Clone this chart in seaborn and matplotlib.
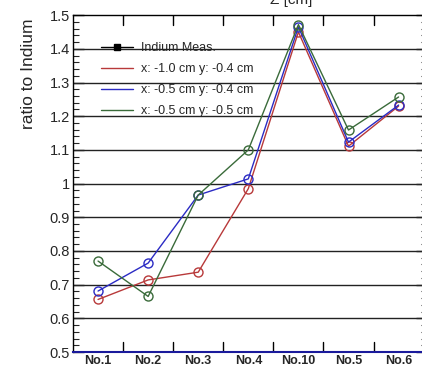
import pandas as pd
import seaborn as sns
import matplotlib.pyplot as plt
from matplotlib.lines import Line2D
from matplotlib.ticker import MultipleLocator

positions = ['No.1', 'No.2', 'No.3', 'No.4', 'No.10', 'No.5', 'No.6']
series_names = ['x: -1.0 cm y: -0.4 cm', 'x: -0.5 cm y: -0.4 cm', 'x: -0.5 cm y: -0.5 cm']
red_vals = [0.656, 0.714, 0.737, 0.985, 1.45, 1.111, 1.23]
blue_vals = [0.681, 0.764, 0.966, 1.014, 1.465, 1.123, 1.233]
green_vals = [0.77, 0.665, 0.966, 1.10, 1.472, 1.159, 1.257]
colors = ['#b8393a', '#2b2bc4', '#3a6b3a']

rows = []
for name, vals in zip(series_names, [red_vals, blue_vals, green_vals]):
    for p, v in zip(positions, vals):
        rows.append({'pos': p, 'ratio': v, 'series': name})
df = pd.DataFrame(rows)

sns.set_style('white')
plt.rcParams['font.family'] = ['Liberation Sans', 'DejaVu Sans']

fig = plt.figure(figsize=(4.22, 3.69), dpi=100)
ax = fig.add_axes([0.173, 0.046, 0.838, 0.913])

# horizontal grid
for yv in [0.6, 0.7, 0.8, 0.9, 1.0, 1.1, 1.2, 1.3, 1.4]:
    ax.axhline(yv, color='#222222', lw=1.0, zorder=0)

sns.lineplot(data=df, x='pos', y='ratio', hue='series', palette=colors,
             marker='o', markersize=6.5, markerfacecolor='none', markeredgewidth=1.0,
             linewidth=1.0, sort=False, ax=ax, legend=False)
for line, c in zip(ax.lines[-3:], colors):
    line.set_markeredgecolor(c)

ax.set_xlim(-0.5, 6.56)
ax.set_ylim(0.5, 1.5)
ax.set_xlabel('')
ax.set_ylabel('ratio to Indium', fontsize=12.5, loc='top')
ax.yaxis.set_label_coords(-0.105, 0.99)

ax.set_xticks(range(len(positions)))
ax.set_xticklabels(positions, fontsize=9, fontweight='bold')
ax.tick_params(axis='x', length=0, pad=2)
for b in [0.5 + i for i in range(6)]:
    ax.plot([b, b], [0.5, 0.53], color='black', lw=1)
    ax.plot([b, b], [1.5, 1.47], color='black', lw=1)

ax.yaxis.set_major_locator(MultipleLocator(0.1))
ax.yaxis.set_minor_locator(MultipleLocator(0.02))
ax.set_yticks([0.5, 0.6, 0.7, 0.8, 0.9, 1.0, 1.1, 1.2, 1.3, 1.4, 1.5])
ax.set_yticklabels(['0.5', '0.6', '0.7', '0.8', '0.9', '1', '1.1', '1.2', '1.3', '1.4', '1.5'], fontsize=10.5)
ax.tick_params(axis='y', which='major', direction='in', length=8, width=1, left=True, right=True, pad=2)
ax.tick_params(axis='y', which='minor', direction='in', length=4, width=0.8, left=True, right=True)

for s in ax.spines.values():
    s.set_color('black')
    s.set_linewidth(1.0)
ax.spines['bottom'].set_color('#1a1a9c')
ax.spines['bottom'].set_linewidth(1.5)

handles = [Line2D([], [], color='black', marker='s', markersize=5, lw=1)]
handles += [Line2D([], [], color=c, lw=1) for c in colors]
ax.legend(handles, ['Indium Meas.'] + series_names, loc='upper left',
          bbox_to_anchor=(0.065, 0.935), frameon=False, fontsize=9,
          handlelength=2.6, handletextpad=0.6, labelspacing=0.72, borderaxespad=0)

fig.text(0.69, 1.0, 'Z [cm]', fontsize=11, ha='center', va='center')

fig.savefig('out.png', dpi=100)
